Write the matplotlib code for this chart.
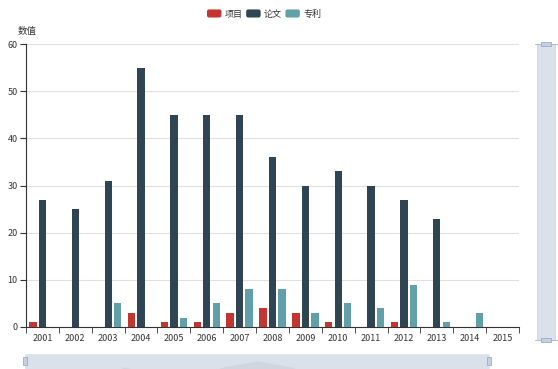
import matplotlib
matplotlib.use("Agg")
import matplotlib.pyplot as plt
from matplotlib.patches import FancyBboxPatch, Rectangle
from matplotlib.legend_handler import HandlerPatch
import numpy as np

plt.rcParams['font.family'] = ['Noto Sans CJK SC', 'DejaVu Sans']

years = ['2001', '2002', '2003', '2004', '2005', '2006', '2007', '2008',
         '2009', '2010', '2011', '2012', '2013', '2014', '2015']
xiangmu = [1, 0, 0, 3, 1, 1, 3, 4, 3, 1, 0, 1, 0, 0, 0]
lunwen = [27, 25, 31, 55, 45, 45, 45, 36, 30, 33, 30, 27, 23, 0, 0]
zhuanli = [0, 0, 5, 0, 2, 5, 8, 8, 3, 5, 4, 9, 1, 3, 0]
series_names = ['项目', '论文', '专利']
colors = ['#c23531', '#2f4554', '#61a0a8']
yticks = [0, 10, 20, 30, 40, 50, 60]

W, H = 558, 369
fig = plt.figure(figsize=(W / 100, H / 100), dpi=100)

def fx(px):
    return px / W

def fy(py):
    return 1 - py / H

ax = fig.add_axes([fx(26), fy(327), fx(519) - fx(26), fy(44) - fy(327)])
x = np.arange(len(years))
w = 0.222
gap = 0.3 * w
offsets = [-(w + gap), 0, (w + gap)]
for vals, c, off, name in zip([xiangmu, lunwen, zhuanli], colors, offsets, series_names):
    ax.bar(x + off, vals, width=w, color=c, label=name, zorder=3)

ax.set_xlim(-0.5, len(years) - 0.5)
ax.set_ylim(0, 60)
ax.set_yticks(yticks)
ax.set_xticks(x)
ax.set_xticklabels(years)
ax.set_xticks(np.arange(-0.5, len(years), 1), minor=True)
ax.tick_params(axis='x', which='major', length=0, pad=5, labelsize=6.5, colors='#333333')
ax.tick_params(axis='x', which='minor', length=4, color='#333333', direction='out')
ax.tick_params(axis='y', length=4, color='#333333', labelsize=6.5, labelcolor='#333333', pad=2)
ax.grid(axis='y', color='#e0e0e0', linewidth=0.8, zorder=0)
for s in ['top', 'right']:
    ax.spines[s].set_visible(False)
ax.spines['left'].set_color('#333333')
ax.spines['bottom'].set_color('#333333')
ax.spines['left'].set_linewidth(0.8)
ax.spines['bottom'].set_linewidth(0.8)

fig.text(fx(18), fy(31), '数值', fontsize=6.8, color='#333333', va='center', ha='left')

# legend with rounded handles
class RoundHandler(HandlerPatch):
    def create_artists(self, legend, orig_handle, xdescent, ydescent, width, height, fontsize, trans):
        p = FancyBboxPatch((-xdescent, -ydescent), width, height,
                           boxstyle='round,pad=0,rounding_size=%f' % (height * 0.25),
                           facecolor=orig_handle.get_facecolor(), edgecolor='none',
                           transform=trans)
        return [p]

proxies = [Rectangle((0, 0), 1, 1, facecolor=c) for c in colors]
hmap = {Rectangle: RoundHandler()}
leg = fig.legend(proxies, series_names, loc='center', bbox_to_anchor=(fx(264), fy(14)), ncol=3,
                 frameon=False, fontsize=6.5, handlelength=1.6, handleheight=1.0,
                 handletextpad=0.35, columnspacing=0.4, handler_map=hmap)
for t in leg.get_texts():
    t.set_color('#333333')

# right vertical slider
fig.patches.append(Rectangle((fx(537), fy(340)), fx(555) - fx(537), fy(44) - fy(340),
                             transform=fig.transFigure, facecolor='#dbe1ea',
                             edgecolor='#d0d6e0', linewidth=0.6, zorder=1))
for py in (44, 340):
    fig.patches.append(Rectangle((fx(541), fy(py + 2)), fx(10), fy(0) - fy(4),
                                 transform=fig.transFigure, facecolor='#c5d0e0',
                                 edgecolor='#8fa3c0', linewidth=0.5, zorder=2))
    fig.lines.append(plt.Line2D([fx(535), fx(557)], [fy(py), fy(py)], transform=fig.transFigure,
                                color='#a9b8cc', linewidth=0.6))

# bottom slider with data shadow
sax = fig.add_axes([fx(25), fy(384), fx(489) - fx(25), fy(354) - fy(384)])
sax.set_xlim(0, len(years) - 1)
sax.set_ylim(0, max(xiangmu) * 1.3)
sax.set_facecolor('#dbe1ea')
sax.fill_between(x, xiangmu, 0, color='#d0d6e0', linewidth=0)
sax.set_xticks([])
sax.set_yticks([])
for s in sax.spines.values():
    s.set_color('#e3e7ee')
    s.set_linewidth(0.6)
for px in (25, 489):
    fig.patches.append(Rectangle((fx(px - 2), fy(365)), fx(4), fy(0) - fy(8),
                                 transform=fig.transFigure, facecolor='#c5d0e0',
                                 edgecolor='#8fa3c0', linewidth=0.5, zorder=5))

fig.savefig('out.png', dpi=100)
